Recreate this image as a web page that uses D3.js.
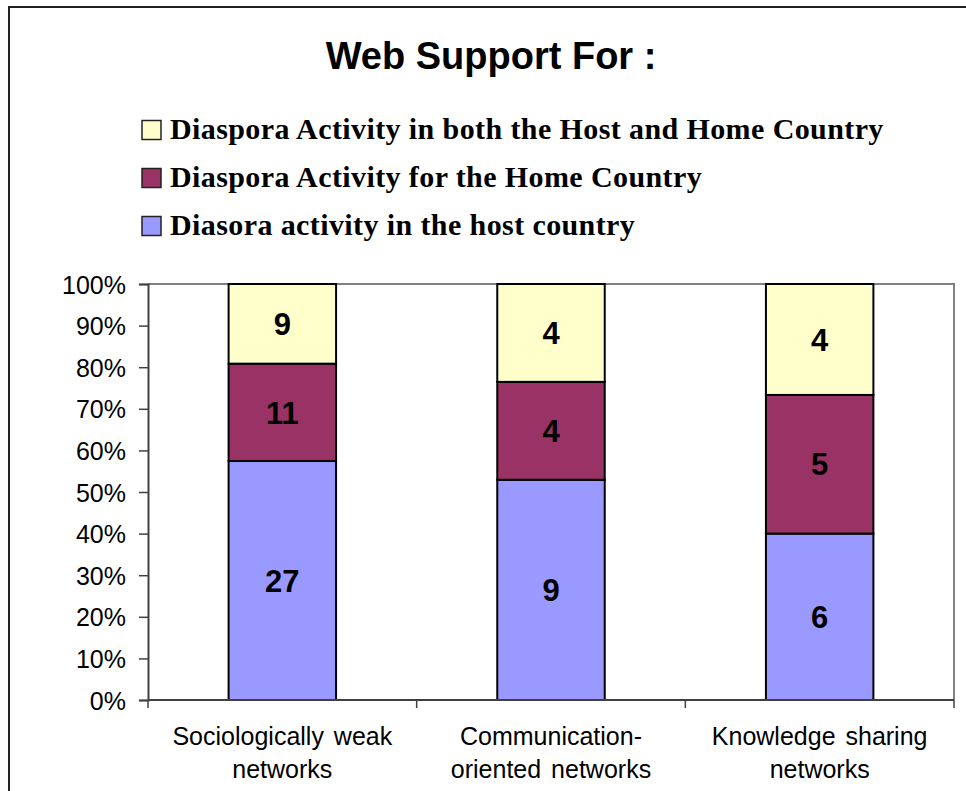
<!DOCTYPE html>
<html>

<head>
    <meta charset="UTF-8">
    <style>
        body { margin: 0; background: #fff; }
    </style>
</head>

<body>
    <div id="chart"></div>

    <script src="https://d3js.org/d3.v7.min.js"></script>
    <script>

        // Data
        const categories = ["Sociologically weak networks", "Communication-oriented networks", "Knowledge sharing networks"];
        const categoryLines = [["Sociologically weak", "networks"], ["Communication-", "oriented networks"], ["Knowledge sharing", "networks"]];
        const seriesNames = ["Diasora activity in the host country", "Diaspora Activity for the Home Country", "Diaspora Activity in both the Host and Home Country"];
        const hostValues = [27, 9, 6];
        const homeValues = [11, 4, 5];
        const bothValues = [9, 4, 4];
        const seriesColors = ["#9999FF", "#993366", "#FFFFCC"];
        const yTicks = [0, 0.1, 0.2, 0.3, 0.4, 0.5, 0.6, 0.7, 0.8, 0.9, 1];

        const W = 966, H = 791;
        const plot = { left: 148, right: 954, top: 284, bottom: 700 };

        const svg = d3.select("#chart")
            .append("svg")
            .attr("width", W)
            .attr("height", H);

        // outer frame (cut off at the right and bottom)
        svg.append("rect")
            .attr("x", 9).attr("y", 7)
            .attr("width", W + 20).attr("height", H + 20)
            .attr("fill", "#fff")
            .attr("stroke", "#222")
            .attr("stroke-width", 2);

        // title
        svg.append("text")
            .attr("x", 491).attr("y", 69)
            .attr("text-anchor", "middle")
            .style("font-family", "'Liberation Sans', Arial, sans-serif")
            .style("font-weight", "bold")
            .style("font-size", "38px")
            .text("Web Support For :");

        // legend (top row = last series)
        const legendOrder = [2, 1, 0];
        const legend = svg.append("g");
        legendOrder.forEach((si, i) => {
            const cy = 130 + i * 48;
            legend.append("rect")
                .attr("x", 142).attr("y", cy - 9.5)
                .attr("width", 19).attr("height", 19)
                .attr("fill", seriesColors[si])
                .attr("stroke", "#222")
                .attr("stroke-width", 1.5);
            legend.append("text")
                .attr("x", 170).attr("y", cy + 9)
                .style("font-family", "'Liberation Serif', 'Times New Roman', serif")
                .style("font-weight", "bold")
                .style("font-size", "30px")
                .style("letter-spacing", "0.4px")
                .text(seriesNames[si]);
        });

        // stack
        const rows = categories.map((c, i) => ({ cat: c, s0: hostValues[i], s1: homeValues[i], s2: bothValues[i] }));
        const stacked = d3.stack()
            .keys(["s0", "s1", "s2"])
            .offset(d3.stackOffsetExpand)(rows);

        const x = d3.scaleBand()
            .domain(categories)
            .range([plot.left, plot.right])
            .paddingInner(0.6)
            .paddingOuter(0.3);

        const y = d3.scaleLinear()
            .domain([0, 1])
            .range([plot.bottom, plot.top]);

        // plot border top and right
        svg.append("path")
            .attr("d", `M${plot.left},${plot.top}H${plot.right}V${plot.bottom}`)
            .attr("fill", "none")
            .attr("stroke", "#808080")
            .attr("stroke-width", 2);

        // y axis
        const yAxis = svg.append("g")
            .attr("transform", `translate(${plot.left},0)`)
            .call(d3.axisLeft(y).tickValues(yTicks).tickFormat(d3.format(".0%")).tickSize(9).tickPadding(13));
        yAxis.select(".domain").attr("stroke", "#404040").attr("stroke-width", 2);
        yAxis.selectAll(".tick line").attr("stroke", "#404040").attr("stroke-width", 1.5);
        yAxis.selectAll(".tick text")
            .attr("dy", "0.36em")
            .style("font-family", "'Liberation Sans', Arial, sans-serif")
            .style("font-size", "25px")
            .attr("fill", "#000");

        // bars
        svg.append("g")
            .selectAll("g")
            .data(stacked)
            .join("g")
            .attr("fill", (d, i) => seriesColors[i])
            .selectAll("rect")
            .data(d => d)
            .join("rect")
            .attr("x", d => x(d.data.cat))
            .attr("y", d => y(d[1]))
            .attr("width", x.bandwidth())
            .attr("height", d => y(d[0]) - y(d[1]))
            .attr("stroke", "#000")
            .attr("stroke-width", 2);

        // value labels
        const rawBySeries = [hostValues, homeValues, bothValues];
        stacked.forEach((layer, si) => {
            svg.append("g")
                .selectAll("text")
                .data(layer)
                .join("text")
                .attr("x", d => x(d.data.cat) + x.bandwidth() / 2)
                .attr("y", d => y((d[0] + d[1]) / 2))
                .attr("dy", "0.36em")
                .attr("text-anchor", "middle")
                .style("font-family", "'Liberation Sans', Arial, sans-serif")
                .style("font-weight", "bold")
                .style("font-size", "31px")
                .text((d, i) => rawBySeries[si][i]);
        });

        // x axis line and boundary ticks
        const step = x.step();
        const bounds = [plot.left].concat(categories.map(c => x(c) + x.bandwidth() + step * x.paddingInner() / 2));
        svg.append("line")
            .attr("x1", plot.left).attr("x2", plot.right)
            .attr("y1", plot.bottom).attr("y2", plot.bottom)
            .attr("stroke", "#404040").attr("stroke-width", 2);
        svg.append("g")
            .selectAll("line")
            .data(bounds)
            .join("line")
            .attr("x1", d => d).attr("x2", d => d)
            .attr("y1", plot.bottom).attr("y2", plot.bottom + 8)
            .attr("stroke", "#404040").attr("stroke-width", 1.5);

        // category labels
        categories.forEach((c, i) => {
            const t = svg.append("text")
                .attr("x", x(c) + x.bandwidth() / 2)
                .attr("y", 745)
                .attr("text-anchor", "middle")
                .style("font-family", "'Liberation Sans', Arial, sans-serif")
                .style("font-size", "25px")
                .style("word-spacing", "3px");
            categoryLines[i].forEach((line, k) => {
                t.append("tspan")
                    .attr("x", x(c) + x.bandwidth() / 2)
                    .attr("dy", k === 0 ? 0 : 33)
                    .text(line);
            });
        });

    </script>
</body>

</html>
